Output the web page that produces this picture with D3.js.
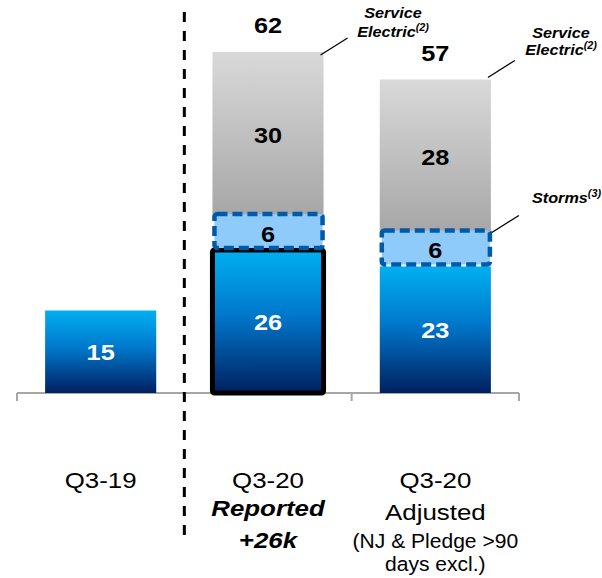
<!DOCTYPE html>
<html>
<head>
<meta charset="utf-8">
<script src="https://cdn.jsdelivr.net/npm/d3@7"></script>
<style>
  html, body { margin: 0; padding: 0; background: #fff; }
  svg { display: block; font-family: Arial, "Liberation Sans", sans-serif; }
</style>
</head>
<body>
<svg id="chart" width="602" height="578"></svg>
<script>
// ---- data ----
const categories = ["Q3-19", "Q3-20 Reported", "Q3-20 Adjusted"];
const baseValues = [15, 26, 23];            // customers (k), blue segment
const stormValues = [0, 6, 6];              // storms segment
const serviceElectricValues = [0, 30, 28];  // Service Electric segment
const totalValues = [null, 62, 57];
const labelLine1 = ["Q3-19", "Q3-20", "Q3-20"];
const labelLine2 = ["", "Reported", "Adjusted"];
const labelLine3 = ["", "+26k", "(NJ & Pledge >90"];
const labelLine4 = ["", "", "days excl.)"];

const SX = 1.15; // horizontal stretch of text, as in the reference

const svg = d3.select("#chart");
const defs = svg.append("defs");

const blueGrad = defs.append("linearGradient").attr("id", "blueGrad")
  .attr("x1", 0).attr("y1", 0).attr("x2", 0).attr("y2", 1);
blueGrad.append("stop").attr("offset", "0%").attr("stop-color", "#00b0f0");
blueGrad.append("stop").attr("offset", "45%").attr("stop-color", "#0078cc");
blueGrad.append("stop").attr("offset", "100%").attr("stop-color", "#002060");

const grayGrad = defs.append("linearGradient").attr("id", "grayGrad")
  .attr("x1", 0).attr("y1", 0).attr("x2", 0).attr("y2", 1);
grayGrad.append("stop").attr("offset", "0%").attr("stop-color", "#d9d9d9");
grayGrad.append("stop").attr("offset", "100%").attr("stop-color", "#a6a6a6");

const x = d3.scaleBand().domain(categories).range([17, 519])
  .paddingInner(0.336).paddingOuter(0.168);
const y = d3.scaleLinear().domain([0, 62]).range([393, 52]);
const bw = x.bandwidth();

function sText(parent, cx, cy, size, txt, opts = {}) {
  const g = parent.append("g").attr("transform", `translate(${cx},${cy}) scale(${opts.sx || SX},1)`);
  return g.append("text").attr("x", 0).attr("y", 0).attr("text-anchor", opts.anchor || "middle")
    .attr("font-size", size).attr("font-weight", opts.bold ? "bold" : "normal")
    .attr("font-style", opts.italic ? "italic" : "normal")
    .attr("fill", opts.fill || "#000").text(txt);
}

// axis (category axis with ticks between categories)
const axisG = svg.append("g");
const tickXs = [17].concat(categories.map(c => x(c) - x.step() * x.paddingInner() / 2 + x.step()));
axisG.append("line").attr("x1", 17).attr("x2", 519).attr("y1", y(0)).attr("y2", y(0))
  .attr("stroke", "#a6a6a6").attr("stroke-width", 2);
axisG.selectAll("line.tick").data(tickXs).join("line").attr("class", "tick")
  .attr("x1", d => d).attr("x2", d => d).attr("y1", y(0)).attr("y2", y(0) + 8)
  .attr("stroke", "#a6a6a6").attr("stroke-width", 2);

const data = categories.map((c, i) => ({
  cat: c, base: baseValues[i], storm: stormValues[i], se: serviceElectricValues[i], total: totalValues[i], i
}));

// Service Electric segments
svg.selectAll("rect.se").data(data.filter(d => d.se > 0)).join("rect").attr("class", "se")
  .attr("x", d => x(d.cat)).attr("width", bw)
  .attr("y", d => y(d.base + d.storm + d.se))
  .attr("height", d => y(d.base + d.storm) - y(d.base + d.storm + d.se))
  .attr("fill", "url(#grayGrad)");

// base blue segments
svg.selectAll("rect.base").data(data).join("rect").attr("class", "base")
  .attr("x", d => x(d.cat)).attr("width", bw)
  .attr("y", d => y(d.base)).attr("height", d => y(0) - y(d.base))
  .attr("fill", "url(#blueGrad)");

// reported highlight border
const rep = data[1];
svg.append("rect")
  .attr("x", x(rep.cat)).attr("width", bw)
  .attr("y", y(rep.base)).attr("height", y(0) - y(rep.base))
  .attr("rx", 2).attr("fill", "none").attr("stroke", "#000").attr("stroke-width", 5);

// storms segments
svg.selectAll("rect.storm").data(data.filter(d => d.storm > 0)).join("rect").attr("class", "storm")
  .attr("x", d => x(d.cat) + 2).attr("width", bw - 3)
  .attr("y", d => y(d.base + d.storm) - 3)
  .attr("height", d => y(d.base) - y(d.base + d.storm) + 1)
  .attr("rx", 3)
  .attr("fill", "#8ecbfb").attr("stroke", "#005aa8").attr("stroke-width", 4.5)
  .attr("stroke-dasharray", "10,5");

// value labels
function valLab(sel, val, lo, hi, color) {
  sel.forEach(d => {
    sText(svg, x(d.cat) + bw / 2, (y(lo(d)) + y(hi(d))) / 2 + 8, 22, val(d), { bold: true, fill: color });
  });
}
valLab(data, d => d.base, d => 0, d => d.base, "#fff");
valLab(data.filter(d => d.storm > 0), d => d.storm, d => d.base, d => d.base + d.storm, "#000");
valLab(data.filter(d => d.se > 0), d => d.se, d => d.base + d.storm, d => d.base + d.storm + d.se, "#000");

// totals
data.filter(d => d.total != null).forEach(d => {
  sText(svg, x(d.cat) + bw / 2, y(d.total) - 19, 22, d.total, { bold: true });
});

// dashed separator
const sepX = tickXs[1];
svg.append("line").attr("x1", sepX).attr("x2", sepX).attr("y1", 12).attr("y2", 540)
  .attr("stroke", "#000").attr("stroke-width", 3).attr("stroke-dasharray", "10,9");

// annotations
function annotate(x0, y0, lines, anchorX, baselines, anchor) {
  svg.append("line").attr("x1", x0).attr("y1", y0).attr("x2", x0 + 27).attr("y2", y0 - 17)
    .attr("stroke", "#000").attr("stroke-width", 1.3);
  lines.forEach((ln, k) => {
    const t = sText(svg, anchorX, baselines[k], 15, null, { bold: true, italic: true, anchor: anchor, sx: 1.08 });
    t.append("tspan").text(ln[0]);
    if (ln[1]) t.append("tspan").attr("font-size", 10).attr("dy", -6).text(ln[1]);
  });
}
const adj = data[2];
annotate(x(rep.cat) + bw - 3, y(rep.total) + 3, [["Service"], ["Electric", "(2)"]], 393, [18, 37], "middle");
annotate(x(adj.cat) + bw - 3, y(adj.total) - 2, [["Service"], ["Electric", "(2)"]], 561, [38, 55], "middle");
annotate(x(adj.cat) + bw + 1, y(adj.base + adj.storm) - 1, [["Storms", "(3)"]], 532, [203], "start");

// category labels
const lab = svg.append("g");
data.forEach((d, i) => {
  const cx = x(d.cat) + bw / 2;
  sText(lab, cx, 488, 22.5, labelLine1[i]);
  if (i === 1) {
    sText(lab, cx, 516, 22.5, labelLine2[i], { bold: true, italic: true });
    sText(lab, cx, 548, 22.5, labelLine3[i], { bold: true, italic: true });
  }
  if (i === 2) {
    sText(lab, cx, 520, 22.5, labelLine2[i]);
    sText(lab, cx, 548, 19.5, labelLine3[i], { sx: 1.08 });
    sText(lab, cx, 571, 19.5, labelLine4[i], { sx: 1.08 });
  }
});
</script>
</body>
</html>
